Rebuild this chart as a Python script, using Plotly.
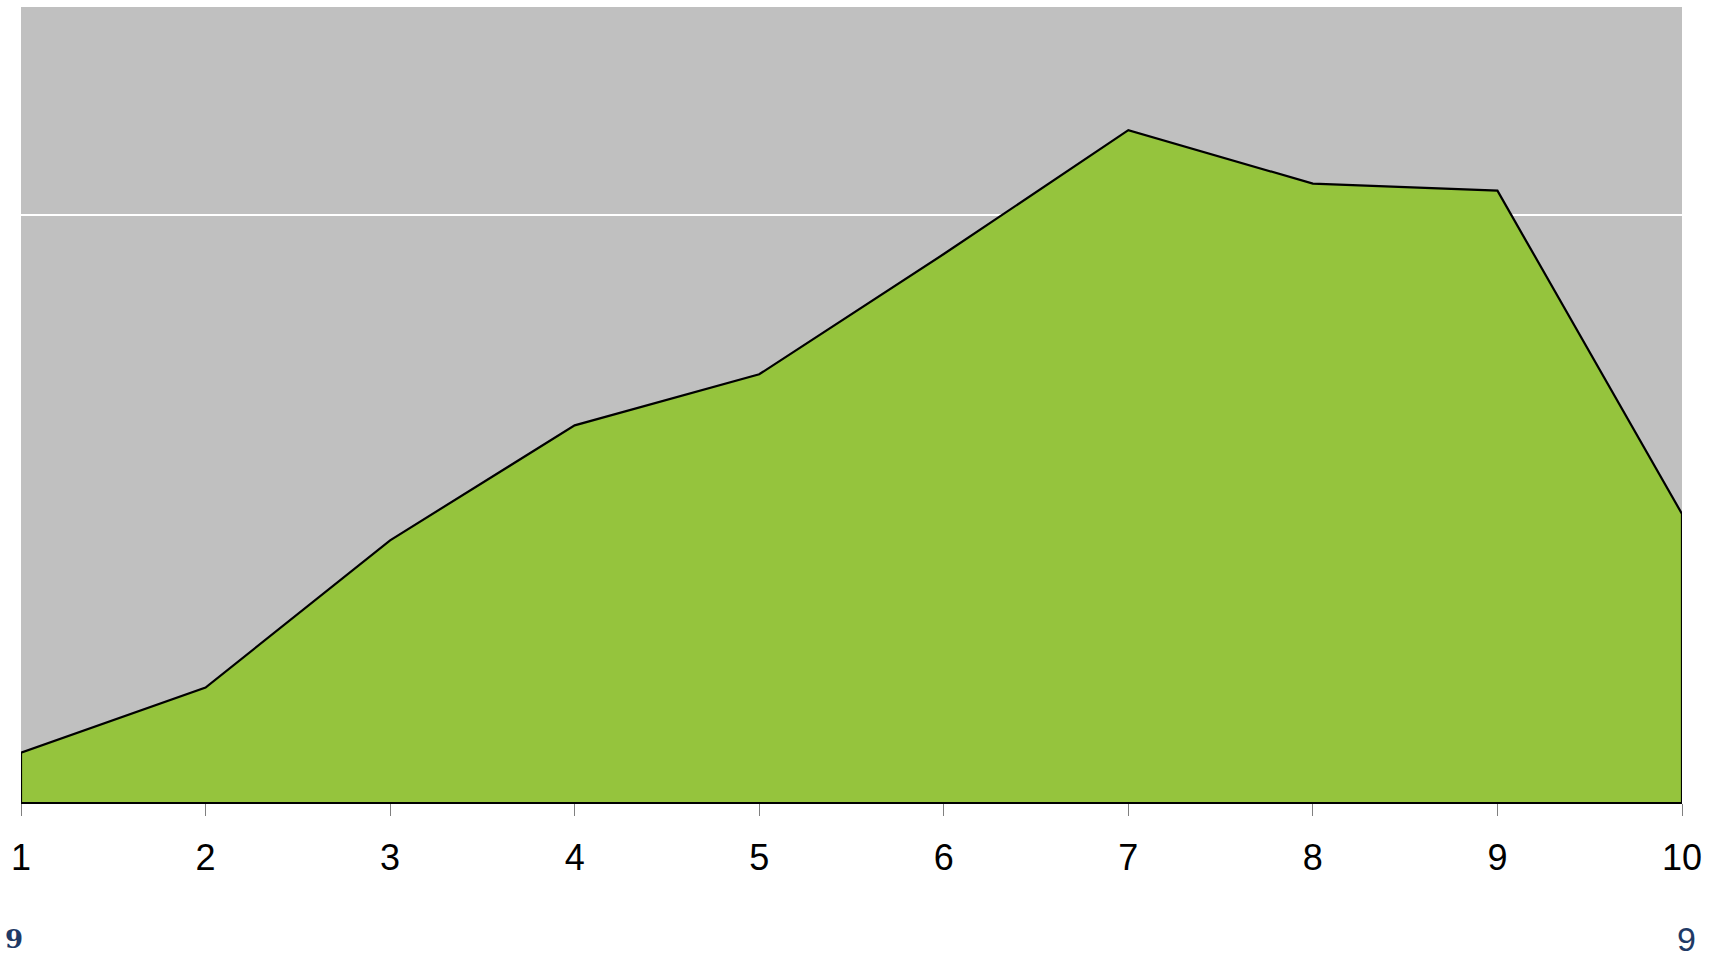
import plotly.graph_objects as go

# Series
steps = [1, 2, 3, 4, 5, 6, 7, 8, 9, 10]
values = [8.4, 19.5, 44.6, 64.2, 72.9, 93.4, 114.5, 105.4, 104.2, 49.1]
tick_labels = ["1", "2", "3", "4", "5", "6", "7", "8", "9", "10"]
page_left = "9"
page_right = "9"

# Closed outline: drop to the baseline at both ends
poly_x = [steps[0]] + steps + [steps[-1]]
poly_y = [0] + values + [0]

fig = go.Figure()
fig.add_trace(go.Scatter(
    x=poly_x, y=poly_y,
    mode="lines",
    fill="toself",
    fillcolor="#95c43d",
    line=dict(color="black", width=2.2),
    hoverinfo="skip",
    showlegend=False,
))

fig.update_layout(
    width=1715, height=959,
    margin=dict(l=21, r=33, t=7, b=157),
    paper_bgcolor="white",
    plot_bgcolor="#c0c0c0",
    font=dict(family="Liberation Sans, Arial, sans-serif", color="black"),
    xaxis=dict(
        range=[1, 10],
        tickmode="array",
        tickvals=steps,
        ticktext=tick_labels,
        ticks="outside",
        ticklen=12,
        tickwidth=1,
        tickcolor="#808080",
        ticklabelstandoff=11,
        tickfont=dict(size=36, color="black"),
        showgrid=False,
        zeroline=False,
        showline=True,
        linecolor="black",
        linewidth=2,
    ),
    yaxis=dict(
        range=[0, 135.5],
        dtick=100,
        showticklabels=False,
        showgrid=True,
        gridcolor="white",
        gridwidth=1.5,
        zeroline=False,
        showline=False,
        ticks="",
    ),
    annotations=[
        dict(text="<b>" + page_left + "</b>", xref="paper", yref="paper", x=-0.0042, y=-0.172,
             xanchor="center", yanchor="middle", showarrow=False,
             font=dict(family="DejaVu Serif, Georgia, serif", size=26, color="#1f3a66")),
        dict(text=page_right, xref="paper", yref="paper", x=1.0026, y=-0.198,
             xanchor="center", yanchor="bottom", showarrow=False, borderpad=0,
             font=dict(family="Liberation Sans, Arial, sans-serif", size=34, color="#1f3a66")),
    ],
)

fig.write_html("out.html")
